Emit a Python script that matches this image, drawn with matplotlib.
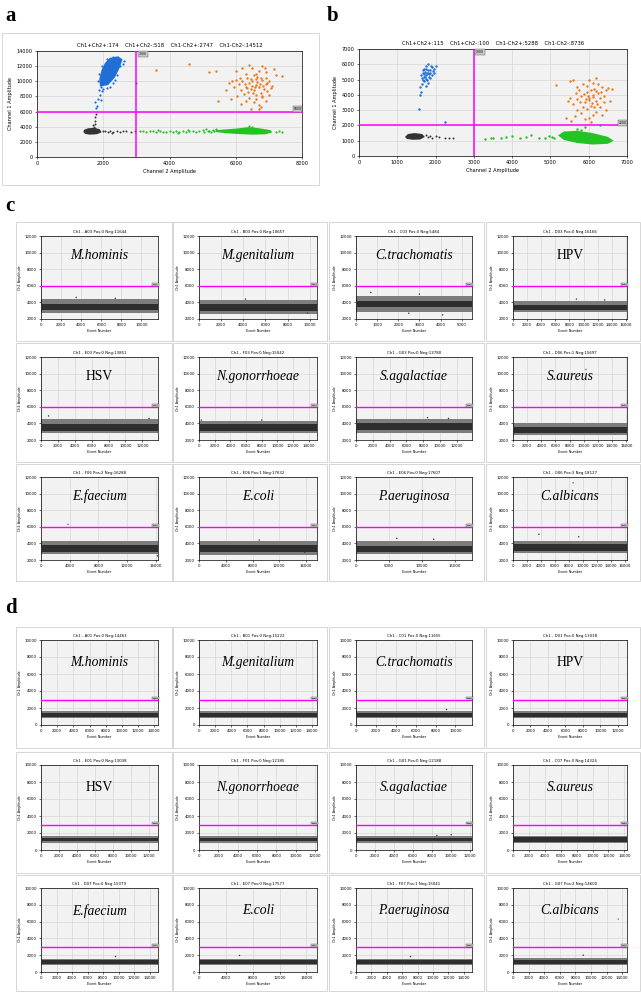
import numpy as np
import matplotlib
matplotlib.use("Agg")
import matplotlib.pyplot as plt
from matplotlib.patches import Rectangle

W, H = 641, 992

# === Panel a: 2D droplet amplitudes (Ch2 x, Ch1 y) ===
a_title = "Ch1+Ch2+:174    Ch1+Ch2-:518    Ch1-Ch2+:2747    Ch1-Ch2-:14512"
a_blue_core = [(1900, 9300), (2150, 9500), (2350, 10500), (2500, 11800), (2580, 12900),
               (2450, 13300), (2200, 13100), (2050, 12400), (1950, 11500), (1880, 10300)]
a_blue_pts = [(1750, 7200), (1800, 6800), (1780, 6500), (1850, 7700), (1900, 8200), (1950, 8700),
              (2000, 9000), (2100, 9100), (2200, 9300), (2280, 9800), (1880, 8900), (1920, 9300),
              (2600, 12300), (2620, 12700), (2500, 12000), (2400, 10800), (2350, 10200), (1850, 10000),
              (1870, 11000), (1950, 12000), (2100, 12900), (2300, 13200), (2980, 9800), (1920, 7500)]
a_orange_pts = [(6600, 9500), (6500, 10000), (6700, 9200), (6400, 9800), (6800, 10200), (6550, 8800),
                (6900, 9600), (6300, 9300), (6650, 10600), (6750, 8500), (6450, 9000), (6850, 9000),
                (6200, 10100), (7000, 10000), (6600, 11000), (6350, 10500), (6950, 8700), (6150, 8800),
                (6700, 11400), (6500, 11800), (6800, 12000), (6900, 11200), (7100, 9400), (7000, 8200),
                (6250, 8300), (6100, 9600), (6000, 10200), (5950, 9200), (6050, 8000), (6400, 7800),
                (6600, 7600), (6800, 7900), (6900, 7400), (6700, 6900), (6550, 7200), (6300, 7400),
                (6150, 7000), (6750, 6600), (6450, 6300), (7200, 10800), (7150, 11600), (7400, 10700),
                (5900, 10000), (5800, 9800), (5700, 8900), (5450, 7400), (5200, 11200), (5400, 11400),
                (3600, 11500), (4600, 12300), (5850, 7600), (6000, 11400), (6200, 11700), (6400, 12100),
                (6300, 11000), (6650, 9900), (6580, 9300), (6720, 9700), (6480, 9400), (6620, 10300),
                (6830, 9400), (6380, 8600), (6520, 8400), (6780, 8100), (6920, 10500), (7050, 9100),
                (6270, 9700), (6130, 10400), (6560, 10800), (6880, 11700), (6700, 6400), (6600, 8200),
                (6450, 10300), (6750, 10400), (6350, 9100), (6950, 9800)]
a_black_core = [(1400, 3300), (1450, 3050), (1600, 2950), (1800, 3000), (1950, 3250),
                (1900, 3650), (1750, 3850), (1550, 3800), (1420, 3600)]
a_black_pts = [(1720, 4000), (1740, 4400), (1750, 4800), (1760, 5300), (1770, 5700), (1700, 4200),
               (2050, 3400), (2150, 3300), (2200, 3450), (2300, 3350), (2400, 3400), (2500, 3300),
               (2600, 3450), (2700, 3500), (2850, 3350), (2950, 3400), (2250, 3200), (2000, 3500)]
a_green_core = [(5400, 3300), (5700, 3150), (6000, 3050), (6500, 2950), (6900, 3000), (7100, 3250),
                (7050, 3550), (6700, 3800), (6400, 3950), (6000, 3750), (5700, 3650), (5400, 3550)]
a_green_pts = [(3100, 3500), (3200, 3400), (3300, 3300), (3400, 3500), (3500, 3400), (3600, 3300),
               (3700, 3450), (3800, 3350), (3900, 3300), (4000, 3500), (4100, 3350), (4200, 3400),
               (4300, 3250), (4400, 3450), (4500, 3300), (4600, 3400), (4700, 3500), (4800, 3350),
               (4900, 3450), (5000, 3550), (5100, 3650), (5200, 3400), (5300, 3600), (5400, 3700),
               (7200, 3300), (7400, 3300), (7300, 3500), (6400, 4100), (6500, 4000), (3650, 3550),
               (4250, 3150), (4550, 3550), (5050, 3300), (5150, 3500), (5250, 3250), (5350, 3450)]

# === Panel b ===
b_title = "Ch1+Ch2+:115    Ch1+Ch2-:100    Ch1-Ch2+:5288    Ch1-Ch2-:8736"
b_blue_pts = [(1750, 5300), (1700, 5200), (1800, 5400), (1650, 5100), (1850, 5600), (1720, 5500),
              (1780, 5000), (1680, 5400), (1820, 5200), (1760, 5700), (1700, 4900), (1640, 4700),
              (1600, 4500), (1620, 4200), (1600, 4000), (1580, 3050), (2250, 2200), (1900, 5800),
              (1950, 5700), (2000, 5900), (1880, 5900), (1800, 6000), (1750, 5900), (1690, 5700),
              (1660, 5600), (1630, 5300), (1860, 5100), (1900, 5300), (1950, 5400), (1730, 5150),
              (1770, 5450), (1810, 5650), (1670, 4950), (1790, 4800), (1740, 4600), (1830, 5350),
              (1710, 5350), (1750, 5050), (1860, 5450), (1920, 5550)]
b_orange_pts = [(6000, 3800), (5900, 3500), (6100, 4000), (5800, 3900), (6200, 3600), (6050, 3300),
                (5950, 4200), (6150, 4400), (5850, 3200), (6250, 4100), (6300, 3800), (5700, 3700),
                (5750, 4300), (6350, 4500), (6100, 4800), (6000, 5000), (6200, 5100), (5600, 5000),
                (5500, 4900), (5150, 4650), (6450, 4300), (6500, 4450), (6400, 3500), (6450, 3000),
                (6300, 3200), (6200, 2900), (6100, 2700), (6000, 2500), (5900, 2400), (6050, 2200),
                (5800, 2800), (5700, 3000), (5600, 3400), (5500, 3800), (5450, 3600), (5400, 2500),
                (5550, 2300), (5650, 2600), (6350, 2700), (6550, 3600), (6600, 4400), (6250, 4700),
                (5950, 4600), (5850, 4700), (5700, 4500), (6150, 3200), (6020, 3650), (5980, 3950),
                (6080, 3450), (5920, 3750), (6120, 3850), (6220, 3400), (5880, 4050), (5780, 3550),
                (6320, 4200), (6180, 4250), (6400, 3950), (5660, 4150), (6060, 4300), (5960, 3100)]
b_black_core = [(1200, 1250), (1250, 1120), (1400, 1060), (1600, 1080), (1720, 1250),
                (1650, 1440), (1450, 1500), (1280, 1440)]
b_black_pts = [(1800, 1250), (1900, 1200), (2000, 1300), (2100, 1250), (2250, 1150), (2350, 1150),
               (2450, 1200), (1750, 1350), (1850, 1300)]
b_green_core = [(5200, 1350), (5350, 1050), (5700, 850), (6100, 750), (6500, 800), (6650, 1000),
                (6500, 1250), (6100, 1500), (5700, 1650), (5350, 1600)]
b_green_pts = [(3300, 1100), (3450, 1200), (3500, 1150), (3700, 1200), (3850, 1250), (4000, 1300),
               (4200, 1200), (4350, 1250), (4500, 1350), (4700, 1150), (4850, 1200), (4950, 1300),
               (5050, 1250), (5100, 1150), (5900, 1900), (6300, 2000), (5700, 1750), (5800, 1700)]

# === Panels c and d: 1D Ch1 amplitude vs event number ===
species = ["M.hominis", "M.genitalium", "C.trachomatis", "HPV",
           "HSV", "N.gonorrhoeae", "S.agalactiae", "S.aureus",
           "E.faecium", "E.coli", "P.aeruginosa", "C.albicans"]
c_titles = ["Ch1 - A03 Pos:0 Neg:11644", "Ch1 - B03 Pos:0 Neg:10657", "Ch1 - C03 Pos:0 Neg:5484",
            "Ch1 - D03 Pos:0 Neg:16166", "Ch1 - E03 Pos:0 Neg:13851", "Ch1 - F03 Pos:0 Neg:15042",
            "Ch1 - G03 Pos:0 Neg:13780", "Ch1 - D06 Pos:1 Neg:15697", "Ch1 - F06 Pos:2 Neg:16288",
            "Ch1 - E06 Pos:1 Neg:17632", "Ch1 - E06 Pos:0 Neg:17607", "Ch1 - G06 Pos:3 Neg:18127"]
c_events = [11650, 10660, 5490, 16170, 13860, 15050, 13790, 16100, 16290, 17640, 17610, 16300]
c_step = [2000, 2000, 1000, 2000, 2000, 2000, 2000, 2000, 4000, 4000, 5000, 2000]
c_fringe_lo = [2700, 2600, 2800, 2900, 2800, 2800, 2900, 2600, 2700, 2600, 2700, 2800]
c_core_lo = [3100, 3000, 3500, 3100, 3100, 3100, 3200, 2900, 3000, 3000, 3000, 3100]
c_core_hi = [3800, 3800, 4200, 3700, 3900, 3900, 4000, 3600, 3800, 3800, 3700, 3900]
c_fringe_hi = [4400, 4300, 4800, 4200, 4500, 4300, 4500, 4000, 4300, 4300, 4300, 4300]
c_outliers = [[(3500, 4600), (7400, 4500)], [(4200, 4400), (9800, 2700)],
              [(700, 5200), (3000, 5000), (4100, 2500), (2500, 2700)], [(9000, 4400), (13000, 4300)],
              [(900, 4900), (12800, 4600)], [(300, 4400), (8000, 4400)],
              [(8500, 4700), (11000, 4600)], [(10300, 10500), (14500, 2900)],
              [(11550, 9300), (3760, 6300), (16200, 2500)], [(9000, 4400), (15800, 2900)],
              [(11800, 4500), (6200, 4600)], [(8600, 11300), (3700, 5100), (9400, 4800)]]
c_thr = 6000

d_titles = ["Ch1 - A01 Pos:0 Neg:14463", "Ch1 - B01 Pos:0 Neg:15222", "Ch1 - C01 Pos:0 Neg:11655",
            "Ch1 - D01 Pos:0 Neg:13038", "Ch1 - E01 Pos:0 Neg:13038", "Ch1 - F01 Pos:0 Neg:12185",
            "Ch1 - G01 Pos:0 Neg:12188", "Ch1 - C07 Pos:0 Neg:14324", "Ch1 - D07 Pos:0 Neg:15079",
            "Ch1 - E07 Pos:0 Neg:17577", "Ch1 - F07 Pos:1 Neg:15041", "Ch1 - G07 Pos:2 Neg:14600"]
d_events = [14470, 14600, 11660, 13040, 13040, 12190, 12190, 14330, 15080, 17580, 15050, 14610]
d_step = [2000, 2000, 2000, 2000, 2000, 2000, 2000, 2000, 2000, 4000, 2000, 2000]
d_fringe_lo = [850, 850, 850, 850, 850, 850, 850, 800, 850, 850, 850, 850]
d_core_lo = [1000, 1000, 1000, 1000, 1000, 1000, 1000, 950, 1000, 1000, 1000, 1000]
d_core_hi = [1400, 1400, 1400, 1400, 1400, 1400, 1400, 1500, 1400, 1400, 1400, 1400]
d_fringe_hi = [1650, 1600, 1600, 1600, 1650, 1600, 1600, 1700, 1600, 1600, 1600, 1650]
d_outliers = [[], [], [(9000, 1900)], [], [], [], [(8500, 1700), (10000, 1800)], [],
              [(9500, 1900)], [(6000, 2000)], [(7000, 1900)], [(13500, 6300), (9000, 2000)]]
d_thr = 3000

# === Layout (pixel boxes) ===
col_ax = [(41, 158), (199, 317), (356, 472), (513, 627)]
col_box = [(16, 172), (173, 327), (329, 484), (486, 640)]
c_row_ax = [(236, 319), (357, 440), (477, 560)]
c_row_box = [(222, 341), (343, 462), (464, 581)]
d_row_ax = [(640, 725), (765, 850), (888, 972)]
d_row_box = [(627, 748), (752, 873), (875, 991)]

MAG = "#ff00ff"
BG = "#f2f2f2"
GRID = "#cfcfcf"


def rect(x0, x1, y0, y1):
    return [x0 / W, 1 - y1 / H, (x1 - x0) / W, (y1 - y0) / H]


def frame(fig, x0, x1, y0, y1):
    fig.patches.append(Rectangle((x0 / W, 1 - y1 / H), (x1 - x0) / W, (y1 - y0) / H,
                                 transform=fig.transFigure, fill=False, ec="#d0d0d0", lw=0.6))


def style(ax, fs):
    ax.set_facecolor(BG)
    ax.grid(True, color=GRID, lw=0.4)
    ax.set_axisbelow(True)
    ax.tick_params(labelsize=fs, length=1.5, width=0.4, pad=1.5)
    for s in ax.spines.values():
        s.set_linewidth(0.5)


def thr_label(ax, x, y, txt, fs, **kw):
    ax.text(x, y, txt, fontsize=fs, zorder=6, **kw,
            bbox=dict(boxstyle="square,pad=0.25", fc="#c8c8c8", ec="#555555", lw=0.3))


def xy(pts):
    arr = np.array(pts)
    return arr[:, 0], arr[:, 1]


fig = plt.figure(figsize=(W / 100, H / 100), dpi=100)
fig.patch.set_facecolor("white")

lab_font = dict(family="Liberation Serif", weight="bold", fontsize=15)
fig.text(5 / W, 1 - 21 / H, "a", **lab_font)
fig.text(327 / W, 1 - 21 / H, "b", **lab_font)
fig.text(5 / W, 1 - 211 / H, "c", **lab_font)
fig.text(5 / W, 1 - 613 / H, "d", **lab_font)

# --- panel a ---
frame(fig, 2, 319, 33, 185)
ax = fig.add_axes(rect(37, 302, 51, 157))
style(ax, 3.6)
ax.fill(*xy(a_blue_core), color="#1f6fd6", lw=0, zorder=2)
ax.scatter(*xy(a_blue_pts), s=2.5, color="#1f6fd6", lw=0, zorder=3)
ax.scatter(*xy(a_orange_pts), s=3, color="#f07a1a", lw=0, zorder=3)
ax.fill(*xy(a_black_core), color="#333333", lw=0, zorder=2)
ax.scatter(*xy(a_black_pts), s=2, color="#333333", lw=0, zorder=3)
ax.fill(*xy(a_green_core), color="#22c322", lw=0, zorder=2)
ax.scatter(*xy(a_green_pts), s=2.5, color="#22c322", lw=0, zorder=3)
ax.axvline(3000, color=MAG, lw=1.1, zorder=4)
ax.axhline(6000, color=MAG, lw=1.1, zorder=4)
thr_label(ax, 3080, 13900, "3000", 2.2, ha="left", va="top")
thr_label(ax, 7980, 6080, "6000", 2.2, ha="right", va="bottom")
ax.set_xlim(0, 8000)
ax.set_ylim(0, 14000)
ax.set_xticks(np.arange(0, 8001, 2000))
ax.set_yticks(np.arange(0, 14001, 2000))
ax.set_title(a_title, fontsize=3.8, pad=3)
ax.set_xlabel("Channel 2 Amplitude", fontsize=3.6, labelpad=2)
ax.set_ylabel("Channel 1 Amplitude", fontsize=3.6, labelpad=3)

# --- panel b ---
ax = fig.add_axes(rect(359, 627, 49, 156))
style(ax, 3.6)
ax.scatter(*xy(b_blue_pts), s=3, color="#1f6fd6", lw=0, zorder=3)
ax.scatter(*xy(b_orange_pts), s=3, color="#f07a1a", lw=0, zorder=3)
ax.fill(*xy(b_black_core), color="#333333", lw=0, zorder=2)
ax.scatter(*xy(b_black_pts), s=2, color="#333333", lw=0, zorder=3)
ax.fill(*xy(b_green_core), color="#22c322", lw=0, zorder=2)
ax.scatter(*xy(b_green_pts), s=3, color="#22c322", lw=0, zorder=3)
ax.axvline(3000, color=MAG, lw=1.1, zorder=4)
ax.axhline(2000, color=MAG, lw=1.1, zorder=4)
thr_label(ax, 3060, 6950, "3000", 2.2, ha="left", va="top")
thr_label(ax, 6980, 2040, "2000", 2.2, ha="right", va="bottom")
ax.set_xlim(0, 7000)
ax.set_ylim(0, 7000)
ax.set_xticks(np.arange(0, 7001, 1000))
ax.set_yticks(np.arange(0, 7001, 1000))
ax.set_title(b_title, fontsize=3.8, pad=3)
ax.set_xlabel("Channel 2 Amplitude", fontsize=3.6, labelpad=2)
ax.set_ylabel("Channel 1 Amplitude", fontsize=3.6, labelpad=3)


# --- panels c and d ---
def event_panel(i, row_ax, row_box, titles, events, steps, flo, clo, chi, fhi, outl,
                thr, ylim, ystep, label_y):
    r, c = divmod(i, 4)
    frame(fig, col_box[c][0], col_box[c][1], row_box[r][0], row_box[r][1])
    ax = fig.add_axes(rect(col_ax[c][0], col_ax[c][1], row_ax[r][0], row_ax[r][1]))
    style(ax, 2.8)
    n = events[i]
    xs = [0, n]
    ax.fill_between(xs, flo[i], fhi[i], color="#7d7d7d", lw=0, zorder=2)
    ax.fill_between(xs, clo[i], chi[i], color="#2e2e2e", lw=0, zorder=3)
    if outl[i]:
        ox, oy = xy(outl[i])
        col = ["#3a7bd5" if y > thr else "#444444" for y in oy]
        ax.scatter(ox, oy, s=1.2, c=col, lw=0, zorder=4)
    ax.axhline(thr, color=MAG, lw=1.0, zorder=5)
    thr_label(ax, n, thr + ystep * 0.05, str(thr), 1.6, ha="right", va="bottom")
    ax.set_xlim(0, n)
    ax.set_ylim(*ylim)
    ax.set_xticks(np.arange(0, n + 1, steps[i]))
    ax.set_yticks(np.arange(ylim[0], ylim[1] + 1, ystep))
    ax.set_title(titles[i], fontsize=2.8, pad=2.5)
    ax.set_xlabel("Event Number", fontsize=2.4, labelpad=1.5)
    ax.set_ylabel("Ch1 Amplitude", fontsize=2.4, labelpad=2)
    name = species[i]
    ax.text(0.5, label_y, name, transform=ax.transAxes, ha="center", va="center",
            family="Liberation Serif", fontsize=9.8,
            style="normal" if name in ("HPV", "HSV") else "italic", zorder=6)


for i in range(12):
    event_panel(i, c_row_ax, c_row_box, c_titles, c_events, c_step, c_fringe_lo, c_core_lo,
                c_core_hi, c_fringe_hi, c_outliers, c_thr, (2000, 12000), 2000, 0.77)
    event_panel(i, d_row_ax, d_row_box, d_titles, d_events, d_step, d_fringe_lo, d_core_lo,
                d_core_hi, d_fringe_hi, d_outliers, d_thr, (0, 10000), 2000, 0.73)

fig.savefig("out.png", dpi=100)
